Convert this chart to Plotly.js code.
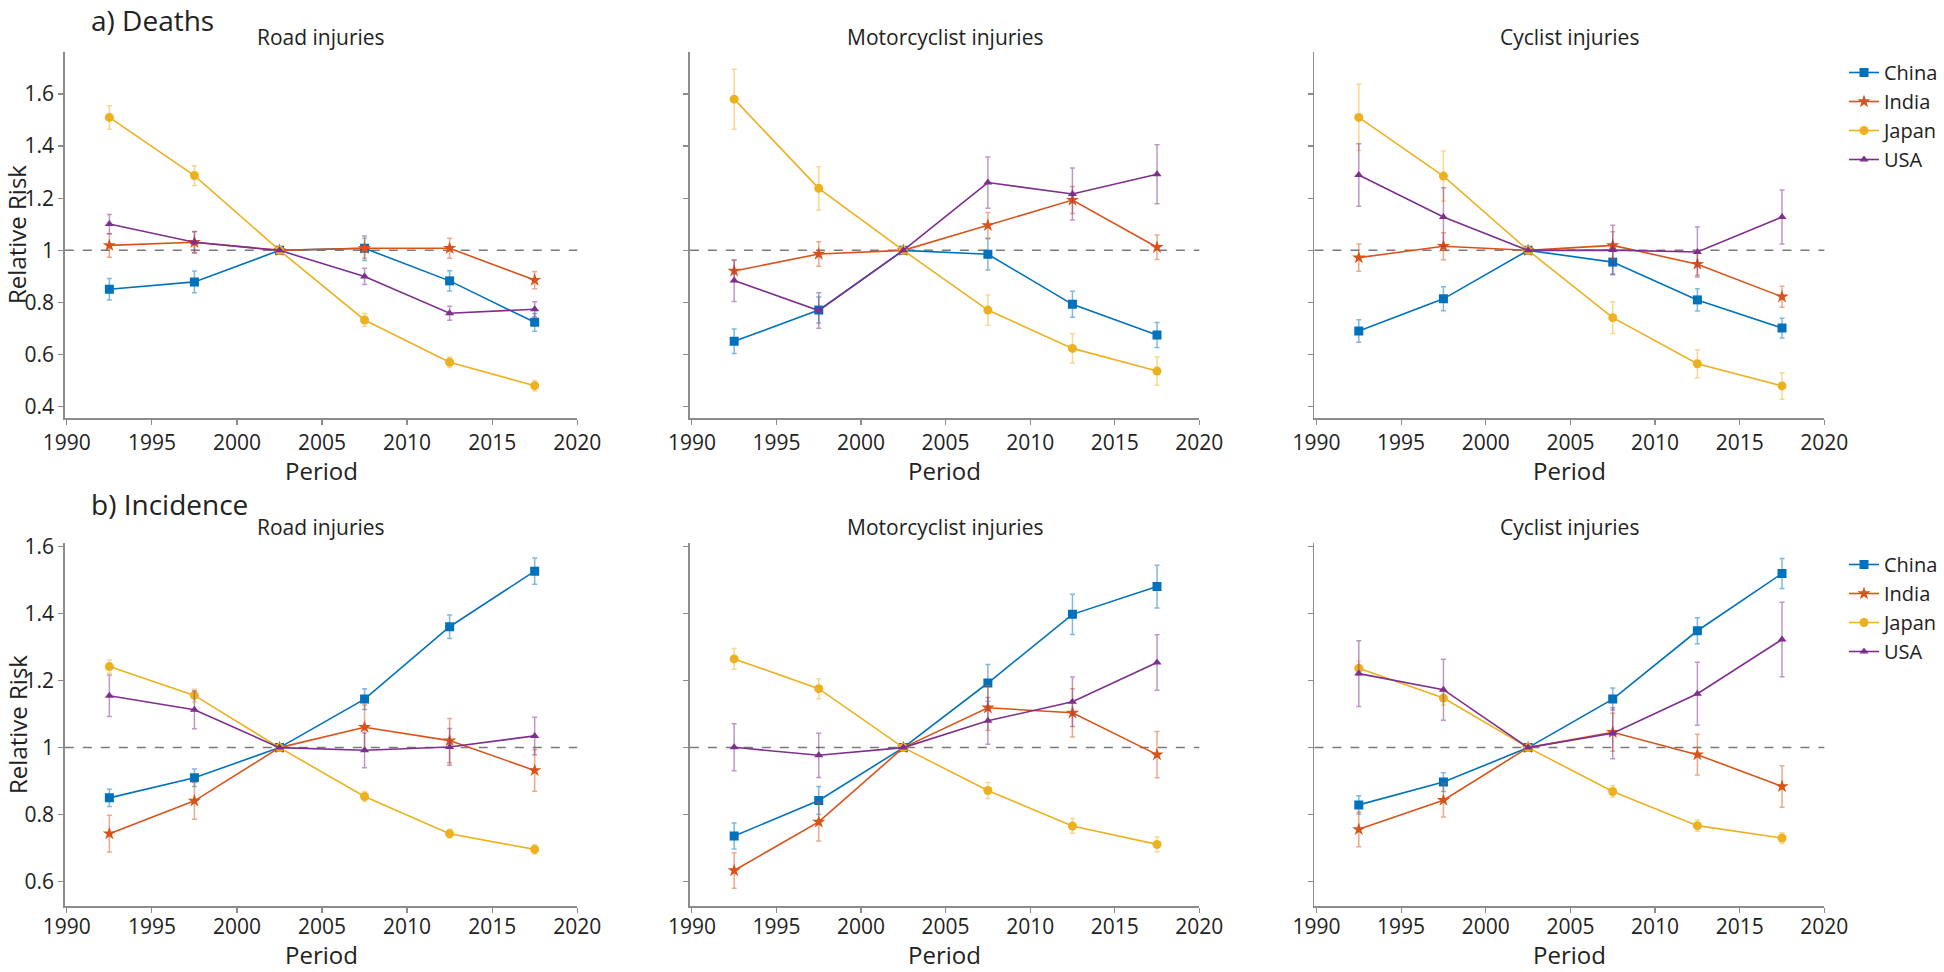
<!DOCTYPE html>
<html>
<head>
<meta charset="utf-8">
<script src="https://cdn.plot.ly/plotly-3.0.1.min.js"></script>
<style>html,body{margin:0;padding:0;background:#fff;}#chart{width:1944px;height:972px;}</style>
</head>
<body>
<div id="chart"></div>
<script>
// ---- Data ----
const periods = [1992.5, 1997.5, 2002.5, 2007.5, 2012.5, 2017.5];
const countries = ["China", "India", "Japan", "USA"];
const panelTitles = ["Road injuries", "Motorcyclist injuries", "Cyclist injuries"];
const rowTitles = ["a) Deaths", "b) Incidence"];

// Deaths — Road injuries
const deathRoadChina = [0.851, 0.879, 1, 1.008, 0.883, 0.724];
const deathRoadChinaErr = [0.041, 0.042, 0, 0.047, 0.039, 0.034];
const deathRoadIndia = [1.019, 1.031, 1, 1.008, 1.008, 0.886];
const deathRoadIndiaErr = [0.045, 0.041, 0, 0.038, 0.038, 0.033];
const deathRoadJapan = [1.51, 1.287, 1, 0.733, 0.571, 0.481];
const deathRoadJapanErr = [0.045, 0.038, 0, 0.025, 0.02, 0.02];
const deathRoadUSA = [1.101, 1.031, 1, 0.90, 0.759, 0.774];
const deathRoadUSAErr = [0.037, 0.04, 0, 0.031, 0.027, 0.029];

// Deaths — Motorcyclist injuries
const deathMotoChina = [0.651, 0.771, 1, 0.985, 0.793, 0.675];
const deathMotoChinaErr = [0.047, 0.05, 0, 0.06, 0.05, 0.048];
const deathMotoIndia = [0.921, 0.986, 1, 1.096, 1.193, 1.012];
const deathMotoIndiaErr = [0.04, 0.047, 0, 0.049, 0.052, 0.047];
const deathMotoJapan = [1.58, 1.238, 1, 0.771, 0.624, 0.537];
const deathMotoJapanErr = [0.115, 0.083, 0, 0.058, 0.056, 0.054];
const deathMotoUSA = [0.884, 0.769, 1, 1.26, 1.216, 1.292];
const deathMotoUSAErr = [0.08, 0.068, 0, 0.098, 0.1, 0.113];

// Deaths — Cyclist injuries
const deathCycChina = [0.691, 0.814, 1, 0.955, 0.81, 0.702];
const deathCycChinaErr = [0.043, 0.046, 0, 0.046, 0.043, 0.038];
const deathCycIndia = [0.972, 1.016, 1, 1.019, 0.947, 0.822];
const deathCycIndiaErr = [0.052, 0.052, 0, 0.052, 0.042, 0.04];
const deathCycJapan = [1.51, 1.285, 1, 0.742, 0.565, 0.48];
const deathCycJapanErr = [0.127, 0.096, 0, 0.061, 0.054, 0.051];
const deathCycUSA = [1.289, 1.128, 1, 1.001, 0.994, 1.128];
const deathCycUSAErr = [0.12, 0.112, 0, 0.095, 0.096, 0.104];

// Incidence — Road injuries
const incRoadChina = [0.85, 0.91, 1, 1.145, 1.361, 1.527];
const incRoadChinaErr = [0.026, 0.026, 0, 0.031, 0.035, 0.039];
const incRoadIndia = [0.743, 0.841, 1, 1.061, 1.021, 0.932];
const incRoadIndiaErr = [0.055, 0.055, 0, 0.066, 0.066, 0.062];
const incRoadJapan = [1.242, 1.156, 1, 0.854, 0.743, 0.696];
const incRoadJapanErr = [0.02, 0.019, 0, 0.015, 0.013, 0.014];
const incRoadUSA = [1.155, 1.113, 1, 0.992, 1.002, 1.035];
const incRoadUSAErr = [0.062, 0.057, 0, 0.052, 0.055, 0.056];

// Incidence — Motorcyclist injuries
const incMotoChina = [0.736, 0.842, 1, 1.193, 1.398, 1.481];
const incMotoChinaErr = [0.039, 0.042, 0, 0.055, 0.06, 0.064];
const incMotoIndia = [0.633, 0.778, 1, 1.119, 1.104, 0.979];
const incMotoIndiaErr = [0.053, 0.057, 0, 0.067, 0.072, 0.069];
const incMotoJapan = [1.265, 1.176, 1, 0.872, 0.766, 0.711];
const incMotoJapanErr = [0.031, 0.03, 0, 0.024, 0.022, 0.022];
const incMotoUSA = [1.001, 0.977, 1, 1.08, 1.137, 1.254];
const incMotoUSAErr = [0.07, 0.066, 0, 0.07, 0.074, 0.083];

// Incidence — Cyclist injuries
const incCycChina = [0.829, 0.897, 1, 1.145, 1.349, 1.52];
const incCycChinaErr = [0.027, 0.028, 0, 0.033, 0.039, 0.045];
const incCycIndia = [0.756, 0.843, 1, 1.046, 0.979, 0.884];
const incCycIndiaErr = [0.052, 0.05, 0, 0.057, 0.061, 0.062];
const incCycJapan = [1.237, 1.148, 1, 0.869, 0.767, 0.73];
const incCycJapanErr = [0.021, 0.021, 0, 0.017, 0.017, 0.016];
const incCycUSA = [1.221, 1.173, 1, 1.043, 1.161, 1.323];
const incCycUSAErr = [0.098, 0.091, 0, 0.076, 0.094, 0.111];

// ---- Styles ----
const colors = {China: "#0072BD", India: "#D95319", Japan: "#EDB120", USA: "#7E2F8E"};
const errColors = {China: "rgba(0,114,189,0.5)", India: "rgba(217,83,25,0.5)", Japan: "rgba(237,177,32,0.5)", USA: "rgba(126,47,142,0.5)"};
const symbols = {China: "square", India: "star", Japan: "circle", USA: "triangle-up"};
const sizes = {China: 9, India: 10, Japan: 9, USA: 8};

const panels = [
  [[deathRoadChina, deathRoadChinaErr], [deathRoadIndia, deathRoadIndiaErr], [deathRoadJapan, deathRoadJapanErr], [deathRoadUSA, deathRoadUSAErr]],
  [[deathMotoChina, deathMotoChinaErr], [deathMotoIndia, deathMotoIndiaErr], [deathMotoJapan, deathMotoJapanErr], [deathMotoUSA, deathMotoUSAErr]],
  [[deathCycChina, deathCycChinaErr], [deathCycIndia, deathCycIndiaErr], [deathCycJapan, deathCycJapanErr], [deathCycUSA, deathCycUSAErr]],
  [[incRoadChina, incRoadChinaErr], [incRoadIndia, incRoadIndiaErr], [incRoadJapan, incRoadJapanErr], [incRoadUSA, incRoadUSAErr]],
  [[incMotoChina, incMotoChinaErr], [incMotoIndia, incMotoIndiaErr], [incMotoJapan, incMotoJapanErr], [incMotoUSA, incMotoUSAErr]],
  [[incCycChina, incCycChinaErr], [incCycIndia, incCycIndiaErr], [incCycJapan, incCycJapanErr], [incCycUSA, incCycUSAErr]]
];

const W = 1944, H = 972;
const xDomPx = [[65, 579], [692, 1203], [1318.5, 1830]];
const yDomPx = [[51.7, 418], [542.7, 906]];
const yRanges = [[0.357, 1.762], [0.527, 1.612]];
const FONT = "Open Sans, Noto Sans, sans-serif";
const TXT = "#222222";
const AXC = "#8c8c8c";

const traces = [];
panels.forEach((panel, p) => {
  const row = Math.floor(p / 3), col = p % 3;
  const idx = p === 0 ? "" : String(p + 1);
  panel.forEach((s, c) => {
    const name = countries[c];
    traces.push({
      type: "scatter", mode: "lines+markers",
      x: periods, y: s[0], name: name,
      xaxis: "x" + idx, yaxis: "y" + idx,
      line: {color: colors[name], width: 1.6},
      marker: {symbol: symbols[name], size: sizes[name], color: colors[name], line: {width: 0}},
      error_y: {type: "data", array: s[1], visible: true, color: errColors[name], thickness: 1.5, width: 2.5},
      showlegend: col === 2,
      legend: row === 0 ? "legend" : "legend2",
      legendgroup: name + row
    });
  });
});

const legendCommon = {xanchor: "left", yanchor: "top", font: {size: 20, family: FONT, color: TXT},
  itemwidth: 30, tracegroupgap: 0, bgcolor: "rgba(0,0,0,0)"};
const layout = {
  width: W, height: H,
  margin: {l: 0, r: 0, t: 0, b: 0},
  paper_bgcolor: "#ffffff", plot_bgcolor: "#ffffff",
  font: {family: FONT, color: TXT, size: 21},
  showlegend: true,
  legend: Object.assign({x: 1850 / W, y: 1 - 53 / H}, legendCommon),
  legend2: Object.assign({x: 1850 / W, y: 1 - 545 / H}, legendCommon),
  shapes: [],
  annotations: []
};

for (let p = 0; p < 6; p++) {
  const row = Math.floor(p / 3), col = p % 3;
  const idx = p === 0 ? "" : String(p + 1);
  const xd = xDomPx[col], yd = yDomPx[row];
  layout["xaxis" + idx] = {
    domain: [xd[0] / W, xd[1] / W], anchor: "y" + idx,
    range: [1989.88, 2020], tickmode: "linear", tick0: 1990, dtick: 5,
    showline: true, linecolor: AXC, linewidth: 1.5, ticks: "outside", ticklen: 5, tickcolor: AXC, tickwidth: 1.2,
    ticklabelstandoff: row === 1 ? -4 : 0,
    showgrid: false, zeroline: false, tickfont: {size: 21, color: TXT, family: FONT}
  };
  layout["yaxis" + idx] = {
    domain: [1 - yd[1] / H, 1 - yd[0] / H], anchor: "x" + idx,
    range: yRanges[row], tickmode: "linear", tick0: 0.4, dtick: 0.2,
    showline: true, linecolor: AXC, linewidth: 1.5, ticks: "outside", ticklen: 5, tickcolor: AXC, tickwidth: 1.2,
    showgrid: false, zeroline: false, showticklabels: col === 0,
    tickfont: {size: 21, color: TXT, family: FONT}
  };
  layout.shapes.push({
    type: "line", xref: "x" + idx + " domain", yref: "y" + idx,
    x0: 0, x1: 1, y0: 1, y1: 1,
    line: {color: "#7a7a7a", width: 1.5, dash: "dash"}, layer: "below"
  });
  const cx = (xd[0] + xd[1]) / 2 / W;
  layout.annotations.push({
    text: panelTitles[col], xref: "paper", yref: "paper", x: cx, y: 1 - (row === 0 ? 37 : 527) / H,
    xanchor: "center", yanchor: "middle", showarrow: false, font: {size: 21, color: TXT, family: FONT}
  });
  layout.annotations.push({
    text: "Period", xref: "paper", yref: "paper", x: cx,
    y: row === 0 ? 1 - 470 / H : 0,
    xanchor: "center", yanchor: row === 0 ? "middle" : "bottom", showarrow: false,
    borderpad: 0,
    font: {size: 24, color: TXT, family: FONT}
  });
}
rowTitles.forEach((t, r) => {
  layout.annotations.push({
    text: t, xref: "paper", yref: "paper", x: 90 / W,
    y: r === 0 ? 1 : 1 - 504 / H,
    xanchor: "left", yanchor: r === 0 ? "top" : "middle", showarrow: false, borderpad: 0,
    font: {size: 28, color: TXT, family: FONT}
  });
  layout.annotations.push({
    text: "Relative Risk", xref: "paper", yref: "paper", x: 17 / W, y: 1 - (r === 0 ? 234 : 724) / H,
    xanchor: "center", yanchor: "middle", textangle: -90, showarrow: false, borderpad: 0,
    font: {size: 24, color: TXT, family: FONT}
  });
});

Plotly.newPlot("chart", traces, layout, {displayModeBar: false, staticPlot: true});
</script>
</body>
</html>
